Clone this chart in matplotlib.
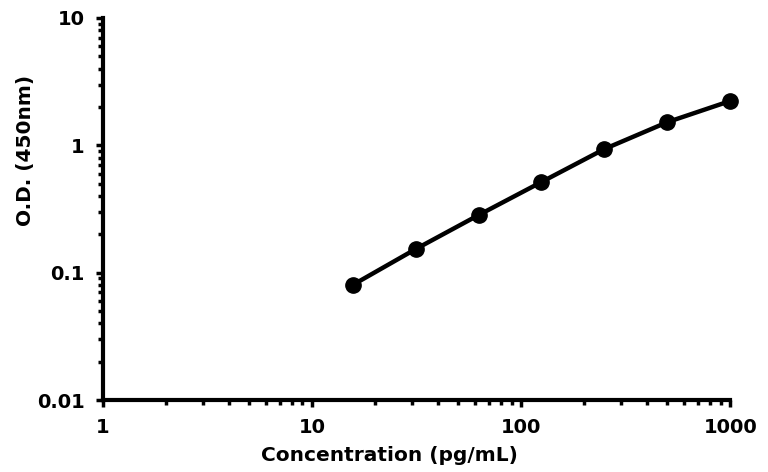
import numpy as np
import matplotlib.pyplot as plt

# Kurva standar ELISA
konsentrasi = [15.625, 31.25, 62.5, 125, 250, 500, 1000]
od_450 = [0.080, 0.153, 0.283, 0.515, 0.935, 1.52, 2.23]

x_ticks = [1, 10, 100, 1000]
x_labels = ["1", "10", "100", "1000"]
y_ticks = [0.01, 0.1, 1, 10]
y_labels = ["0.01", "0.1", "1", "10"]

plt.rcParams['font.family'] = ['DejaVu Sans']
plt.rcParams['font.weight'] = 'bold'

fig = plt.figure(figsize=(7.68, 4.72), dpi=100)
ax = fig.add_axes([0.134, 0.1525, 0.817, 0.8095])

ax.plot(konsentrasi, od_450, color="black", linewidth=3.2, marker="o",
        markersize=11, clip_on=False)

ax.set_xscale("log")
ax.set_yscale("log")
ax.set_xlim(1, 1000)
ax.set_ylim(0.01, 10)

ax.set_xticks(x_ticks)
ax.set_xticklabels(x_labels)
ax.set_yticks(y_ticks)
ax.set_yticklabels(y_labels)

for s in ["top", "right"]:
    ax.spines[s].set_visible(False)
for s in ["left", "bottom"]:
    ax.spines[s].set_linewidth(3)

ax.tick_params(which="major", direction="out", length=5, width=2.5,
               labelsize=14, pad=8)
ax.tick_params(which="minor", direction="out", length=3.5, width=2.5)

ax.set_xlabel("Concentration (pg/mL)", fontsize=14.5, fontweight="bold")
ax.set_ylabel("O.D. (450nm)", fontsize=14.5, fontweight="bold")
ax.xaxis.set_label_coords(0.456, -0.12)
ax.yaxis.set_label_coords(-0.108, 0.652)

fig.savefig("out.png", dpi=100)
